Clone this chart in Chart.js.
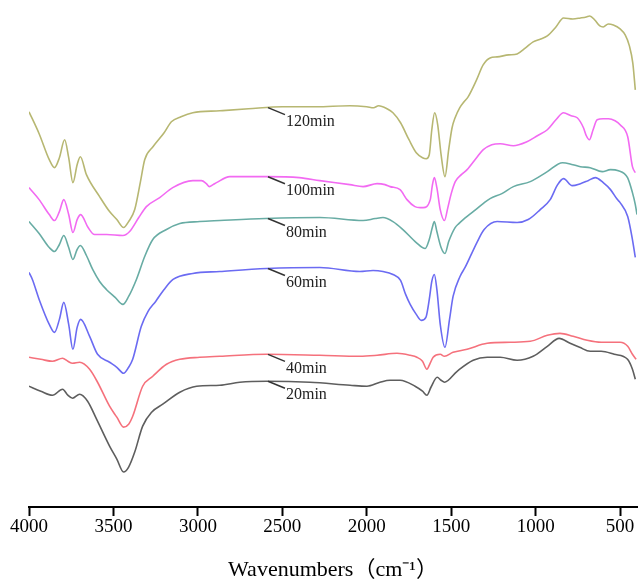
<!DOCTYPE html>
<html>
<head>
<meta charset="utf-8">
<title>FTIR spectra</title>
<script src="https://cdn.jsdelivr.net/npm/chart.js@4/dist/chart.umd.min.js"></script>
<style>
  html, body { margin: 0; padding: 0; background: #fff; }
  #wrap { width: 638px; height: 581px; position: relative; }
</style>
</head>
<body>
<div id="wrap"><canvas id="ftirChart"></canvas></div>
<script>
// 横軸の目盛り (cm-1)
const tickValues = [4000, 3500, 3000, 2500, 2000, 1500, 1000, 500];
const seriesNames = ['20min', '40min', '60min', '80min', '100min', '120min'];
const seriesColors = ['#5e5e5e', '#f5717c', '#6b6bf2', '#68aca4', '#f26af2', '#b7b772'];
// ラベルの引き出し線を付ける波数
const labelAnchor = 2585;

// 各スペクトル（波数 / 透過率 a.u.）
const wn20 = [4000,3930,3861,3801,3770,3742,3700,3653,3600,3523,3480,3440,3410,3374,3327,3274,3208,3107,3007,2870,2752,2592,2337,2099,1999,1922,1862,1803,1714,1670,1644,1620,1583,1560,1540,1465,1370,1287,1210,1110,1015,931,861,796,740,677,612,535,456,427,410];
const t20 = [121,116,112,118,112,109,113,106,88,61,48,35,40,55,81,95,103,115,121,122,125,126,125,122,121,125,127,127,121,116,112,120,130,127,125,136,147,150,150,147,151,161,169,164,160,156,156,153,148,138,128];

const wn40 = [4000,3930,3861,3801,3770,3742,3700,3641,3594,3523,3480,3440,3410,3386,3327,3267,3186,3107,2989,2870,2592,2278,2041,1939,1821,1743,1703,1670,1644,1625,1607,1565,1540,1489,1406,1287,1150,1032,931,856,778,695,612,500,455,427,405];
const t40 = [150,148,146,149,146,144,145,138,125,101,90,80,83,91,121,131,143,148,150,151,153,152,151,152,154,152,150,146,138,144,150,153,151,155,158,164,165,166,172,174,171,167,165,165,161,153,148];

const wn60 = [4000,3980,3940,3880,3849,3820,3794,3765,3740,3715,3694,3641,3594,3523,3480,3440,3410,3386,3335,3295,3250,3200,3147,3030,2870,2592,2278,2041,1963,1904,1845,1800,1770,1743,1707,1677,1650,1630,1615,1600,1585,1565,1537,1510,1489,1448,1418,1348,1305,1228,1110,1044,973,914,870,835,783,735,690,647,600,557,516,500,455,427,410];
const t60 = [235,228,208,183,175,188,205,183,158,180,188,171,153,145,140,134,140,148,181,196,206,218,228,234,236,239,240,236,237,236,233,227,213,203,193,187,190,208,226,233,218,183,160,188,211,231,240,265,278,286,285,288,298,308,323,329,322,324,327,330,325,318,308,305,291,268,250];

const wn80 = [4000,3940,3880,3849,3820,3794,3765,3740,3715,3696,3660,3623,3582,3542,3490,3444,3410,3364,3315,3267,3186,3107,2989,2870,2600,2278,2022,1950,1904,1845,1786,1707,1654,1630,1612,1600,1585,1560,1537,1515,1477,1455,1429,1400,1370,1311,1270,1200,1132,1032,931,841,780,735,677,606,557,510,456,427,410,400];
const t80 = [286,274,260,256,263,272,260,248,258,262,252,238,226,218,210,203,211,228,251,268,278,284,286,287,289,290,287,289,290,286,278,265,259,268,280,286,276,260,254,266,280,284,288,292,296,304,309,314,321,326,336,345,343,341,340,336,338,337,330,315,303,293];

const wn100 = [4000,3940,3880,3849,3820,3794,3765,3740,3715,3694,3650,3612,3540,3444,3404,3350,3305,3226,3149,3030,2979,2950,2932,2910,2890,2811,2592,2400,2278,2100,2022,1939,1892,1862,1803,1762,1715,1684,1666,1624,1612,1600,1585,1565,1540,1520,1500,1476,1440,1406,1350,1310,1260,1210,1132,1052,990,931,880,835,790,754,717,700,682,660,636,600,569,530,500,455,427,410];
const t100 = [320,308,293,287,296,308,293,275,288,293,280,273,273,272,276,290,301,310,320,327,327,324,321,323,325,331,331,330,327,323,321,324,323,321,318,308,301,300,300,308,322,330,320,298,287,300,314,326,333,338,350,358,363,364,362,366,372,378,388,395,392,390,380,372,368,378,388,389,389,387,383,371,341,335];

const wn120 = [4000,3940,3880,3849,3820,3789,3765,3740,3715,3696,3660,3582,3523,3480,3440,3410,3374,3340,3315,3266,3200,3157,3100,3030,2870,2700,2500,2300,2100,2000,1960,1930,1880,1845,1800,1750,1707,1670,1648,1630,1615,1598,1580,1560,1537,1515,1495,1477,1450,1424,1400,1350,1311,1270,1228,1160,1110,1060,1015,970,931,880,835,780,735,700,680,650,620,600,570,540,500,470,445,425,410];
const t120 = [396,374,348,340,350,368,350,325,343,351,333,311,296,288,280,286,298,326,348,361,375,386,391,395,397,399,401,401,402,401,400,402,399,395,385,368,355,350,349,353,378,395,383,353,331,358,380,390,400,406,411,428,443,450,451,453,454,460,466,469,472,481,490,489,490,491,492,488,482,481,484,483,479,473,462,445,418];

const waveLists = [wn20, wn40, wn60, wn80, wn100, wn120];
const valueLists = [t20, t40, t60, t80, t100, t120];

// 波数での線形補間（ラベル位置用）
function valueAt(wns, vals, w) {
  for (let i = 0; i < wns.length - 1; i++) {
    const a = wns[i], b = wns[i + 1];
    if ((a - w) * (b - w) <= 0) {
      const f = a === b ? 0 : (w - a) / (b - a);
      return vals[i] + f * (vals[i + 1] - vals[i]);
    }
  }
  return vals[vals.length - 1];
}

// 曲線の横に "xxmin" を引き出し線つきで描く
const curveLabels = {
  id: 'curveLabels',
  afterDatasetsDraw(chart) {
    const { ctx, scales: { x, y } } = chart;
    ctx.save();
    ctx.font = '16px "Liberation Serif", "Times New Roman", serif';
    ctx.fillStyle = '#222';
    ctx.strokeStyle = '#333';
    ctx.lineWidth = 1.5;
    ctx.textAlign = 'left';
    ctx.textBaseline = 'middle';
    seriesNames.forEach((name, i) => {
      const px = x.getPixelForValue(labelAnchor);
      const py = y.getPixelForValue(valueAt(waveLists[i], valueLists[i], labelAnchor));
      ctx.beginPath();
      ctx.moveTo(px, py);
      ctx.lineTo(px + 17, py + 7);
      ctx.stroke();
      ctx.fillText(name, px + 18, py + 14);
    });
    ctx.restore();
  }
};

const datasets = seriesNames.map((name, i) => ({
  label: name,
  data: waveLists[i].map((w, j) => ({ x: w, y: valueLists[i][j] })),
  borderColor: seriesColors[i],
  borderWidth: 1.6,
  pointRadius: 0,
  fill: false,
  cubicInterpolationMode: 'monotone'
}));

new Chart(document.getElementById('ftirChart'), {
  type: 'line',
  data: { datasets },
  options: {
    responsive: true,
    maintainAspectRatio: false,
    animation: false,
    layout: { padding: { left: 29, right: 1, top: 0, bottom: 0 } },
    plugins: { legend: { display: false }, tooltip: { enabled: false } },
    scales: {
      x: {
        type: 'linear',
        reverse: true,
        min: 400,
        max: 4000,
        afterBuildTicks: axis => { axis.ticks = tickValues.map(v => ({ value: v })); },
        grid: { drawOnChartArea: false, tickLength: 9, tickColor: '#000', tickWidth: 2 },
        border: { display: true, color: '#000', width: 2 },
        ticks: {
          padding: 2,
          color: '#000',
          maxRotation: 0,
          callback: v => String(v),
          font: { family: '"Liberation Serif", "Times New Roman", serif', size: 19, lineHeight: 1 }
        },
        title: {
          display: true,
          text: 'Wavenumbers（cm⁻¹）',
          color: '#000',
          padding: { top: 20, bottom: 0 },
          font: { family: '"Liberation Serif", "Noto Sans CJK SC", serif', size: 22, lineHeight: 1 }
        }
      },
      y: { display: false, min: 0, max: 508 }
    }
  },
  plugins: [curveLabels]
});
</script>
</body>
</html>
